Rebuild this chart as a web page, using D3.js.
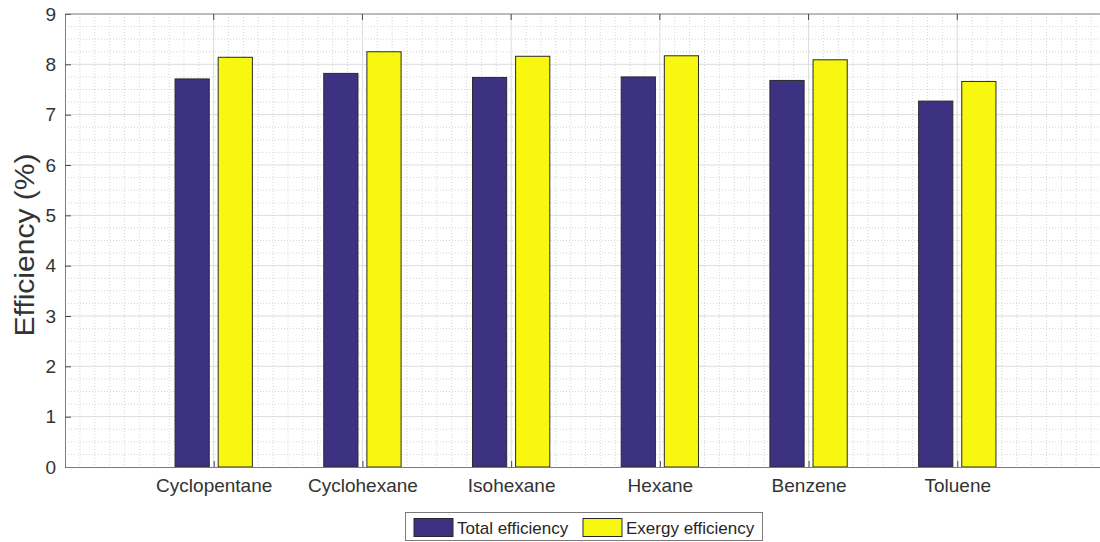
<!DOCTYPE html>
<html>
<head>
<meta charset="utf-8">
<script src="https://cdn.jsdelivr.net/npm/d3@7"></script>
<style>
  html, body { margin: 0; padding: 0; background: #fff; }
  svg { display: block; font-family: "Liberation Sans", Arial, sans-serif; }
</style>
</head>
<body>
<svg id="chart" width="1100" height="542"></svg>
<script>
// Working fluids and their cycle efficiencies (%)
const fluids = ["Cyclopentane", "Cyclohexane", "Isohexane", "Hexane", "Benzene", "Toluene"];
const totalEfficiency = [7.71, 7.82, 7.74, 7.75, 7.68, 7.27];
const exergyEfficiency = [8.14, 8.25, 8.16, 8.17, 8.09, 7.66];
const seriesNames = ["Total efficiency", "Exergy efficiency"];
const seriesColors = ["#3d3282", "#f7f70f"];
const yTicks = [0, 1, 2, 3, 4, 5, 6, 7, 8, 9];

const svg = d3.select("#chart");
const W = 1100, H = 542;
const m = { left: 65, top: 14, right: 1106, bottom: 467 };

// Numeric x scale: categories sit at 1..n, axis spans 0..n+1
const x = d3.scaleLinear().domain([0, fluids.length + 1]).range([m.left, m.right]);
const y = d3.scaleLinear().domain([0, 9]).range([m.bottom, m.top]);
const unit = x(1) - x(0);
const barW = unit * 0.23;
const offsets = [-unit * 0.145, unit * 0.145];

svg.append("defs").append("clipPath").attr("id", "plot")
  .append("rect").attr("x", m.left).attr("y", m.top)
  .attr("width", m.right - m.left).attr("height", m.bottom - m.top);

const plot = svg.append("g").attr("clip-path", "url(#plot)");

// Minor grid
const xMinor = d3.range(1, (fluids.length + 1) * 10).map(d => d / 10).filter(d => Math.abs(d - Math.round(d)) > 1e-6);
const yMinor = d3.range(1, 36).map(d => d / 4).filter(d => Math.abs(d - Math.round(d)) > 1e-6);
plot.selectAll(".xminor").data(xMinor).join("line")
  .attr("x1", d => x(d)).attr("x2", d => x(d)).attr("y1", m.top).attr("y2", m.bottom)
  .attr("stroke", "#d6d6d6").attr("stroke-width", 1).attr("stroke-dasharray", "1,2");
plot.selectAll(".yminor").data(yMinor).join("line")
  .attr("x1", m.left).attr("x2", m.right).attr("y1", d => y(d)).attr("y2", d => y(d))
  .attr("stroke", "#d6d6d6").attr("stroke-width", 1).attr("stroke-dasharray", "1,2");

// Major grid
plot.selectAll(".ymajor").data(yTicks.slice(1, -1)).join("line")
  .attr("x1", m.left).attr("x2", m.right).attr("y1", d => y(d)).attr("y2", d => y(d))
  .attr("stroke", "#dcdcdc").attr("stroke-width", 1);
plot.selectAll(".xmajor").data(d3.range(1, fluids.length + 1)).join("line")
  .attr("x1", d => x(d)).attr("x2", d => x(d)).attr("y1", m.top).attr("y2", m.bottom)
  .attr("stroke", "#dcdcdc").attr("stroke-width", 1);

// Bars
const series = [totalEfficiency, exergyEfficiency];
series.forEach((vals, si) => {
  plot.selectAll(".bar" + si).data(vals).join("rect")
    .attr("x", (d, i) => x(i + 1) + offsets[si] - barW / 2)
    .attr("y", d => y(d))
    .attr("width", barW)
    .attr("height", d => y(0) - y(d))
    .attr("fill", seriesColors[si])
    .attr("stroke", "#2a2a2a").attr("stroke-width", 1);
});

// Axes
const axisColor = "#7a7a7a";
const yAxis = svg.append("g").attr("transform", `translate(${m.left},0)`)
  .call(d3.axisLeft(y).tickValues(yTicks).tickSize(-6).tickPadding(9).tickFormat(d3.format("d")));
yAxis.select(".domain").attr("stroke", axisColor);
yAxis.selectAll(".tick line").attr("stroke", "#4a4a4a");
yAxis.selectAll(".tick text").attr("font-size", 19).attr("fill", "#333").attr("font-family", "Liberation Sans, Arial, sans-serif");

// Right-side inward ticks
svg.append("g").selectAll("line").data(yTicks).join("line")
  .attr("x1", m.right).attr("x2", m.right - 6).attr("y1", d => y(d)).attr("y2", d => y(d))
  .attr("stroke", "#4a4a4a");

const xAxis = svg.append("g").attr("transform", `translate(0,${m.bottom})`)
  .call(d3.axisBottom(x).tickValues(d3.range(1, fluids.length + 1)).tickSize(-6).tickPadding(12)
    .tickFormat(d => fluids[d - 1]));
xAxis.select(".domain").attr("stroke", axisColor);
xAxis.selectAll(".tick line").attr("stroke", "#4a4a4a");
xAxis.selectAll(".tick text").attr("font-size", 19).attr("fill", "#333").attr("font-family", "Liberation Sans, Arial, sans-serif");

// Top border with inward ticks
svg.append("line").attr("x1", m.left).attr("x2", W).attr("y1", m.top).attr("y2", m.top)
  .attr("stroke", axisColor);
svg.append("g").selectAll("line").data(d3.range(1, fluids.length + 1)).join("line")
  .attr("x1", d => x(d)).attr("x2", d => x(d)).attr("y1", m.top).attr("y2", m.top + 6)
  .attr("stroke", "#4a4a4a");

// Y axis title
svg.append("text")
  .attr("transform", `translate(34,245) rotate(-90)`)
  .attr("text-anchor", "middle")
  .attr("font-size", 27).attr("fill", "#333")
  .attr("textLength", 183).attr("lengthAdjust", "spacingAndGlyphs")
  .text("Efficiency (%)");

// Legend
const lg = svg.append("g");
lg.append("rect").attr("x", 405.5).attr("y", 512.5).attr("width", 357).attr("height", 28)
  .attr("fill", "#fff").attr("stroke", "#7a7a7a");
const legendItems = [
  { sx: 414, tx: 457 },
  { sx: 583, tx: 626 }
];
legendItems.forEach((it, i) => {
  lg.append("rect").attr("x", it.sx).attr("y", 518.5).attr("width", 39).attr("height", 18)
    .attr("fill", seriesColors[i]).attr("stroke", "#2a2a2a");
  lg.append("text").attr("x", it.tx).attr("y", 534).attr("font-size", 17).attr("fill", "#262626")
    .text(seriesNames[i]);
});
</script>
</body>
</html>
